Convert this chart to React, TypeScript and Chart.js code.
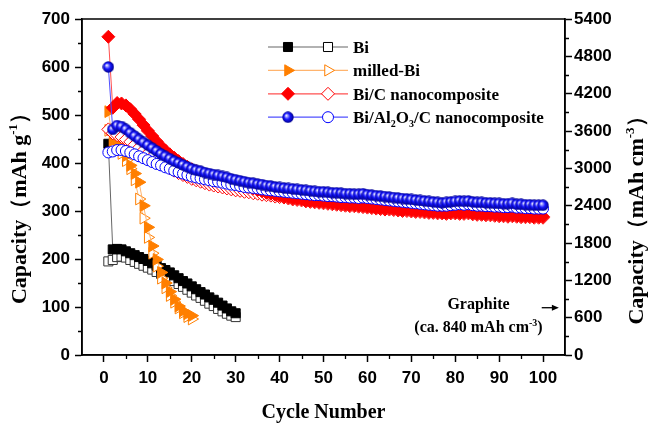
import React, { useEffect, useRef } from 'react';
import { Chart, registerables } from 'chart.js';

Chart.register(...registerables);

// ---------- tick values ----------
const xTickValues = [0, 10, 20, 30, 40, 50, 60, 70, 80, 90, 100];
const xMinorTicks = [5, 15, 25, 35, 45, 55, 65, 75, 85, 95];
const leftTickValues = [0, 100, 200, 300, 400, 500, 600, 700];
const leftMinorTicks = [50, 150, 250, 350, 450, 550, 650];
const rightTickValues = [0, 600, 1200, 1800, 2400, 3000, 3600, 4200, 4800, 5400];
const rightMinorTicks = [300, 900, 1500, 2100, 2700, 3300, 3900, 4500, 5100];

// ---------- series (capacity, mAh g-1, cycle 1..n) ----------
const biFilled = [440, 220, 221, 220, 216, 212, 208, 204, 200, 196,
  191, 186, 181, 177, 172, 166, 160, 154, 149, 143,
  137, 131, 126, 120, 115, 109, 103, 97, 91, 87];
const biOpen = [195, 198, 204, 205, 203, 198, 194, 190, 186, 182,
  178, 173, 169, 164, 159, 154, 148, 142, 136, 130,
  124, 119, 113, 107, 102, 96, 91, 86, 82, 79];

const milledFilled = [507, 447, 440, 430, 415, 395, 378, 360, 311, 266,
  227, 199, 172, 150, 132, 116, 102, 92, 86, 82];
const milledOpen = [468, 440, 432, 420, 405, 388, 365, 325, 285, 245,
  212, 185, 160, 140, 124, 110, 98, 88, 80, 75];

const bicFilled = [663, 515, 525, 524, 520, 512, 502, 491, 479, 467,
  456, 445, 435, 426, 418, 411, 404, 398, 392, 387,
  383, 379, 376, 373, 370, 368, 365, 363, 361, 359,
  356, 353, 350, 347, 344, 341, 338, 336, 334, 332,
  330, 328, 326, 325, 324, 322, 321, 320, 319, 318,
  317, 316, 315, 314, 313, 312, 312, 311, 310, 309,
  308, 307, 306, 305, 305, 304, 303, 302, 302, 301,
  300, 300, 299, 298, 298, 297, 297, 296, 297, 297,
  296, 296, 297, 295, 294, 294, 293, 293, 292, 291,
  291, 290, 291, 290, 289, 289, 289, 288, 288, 288];
const bicOpen = [470, 462, 458, 454, 449, 444, 438, 432, 426, 420,
  413, 406, 400, 394, 389, 384, 379, 375, 371, 367,
  364, 361, 358, 355, 353, 351, 349, 347, 345, 343,
  342, 340, 339, 337, 336, 334, 333, 332, 330, 329,
  328, 326, 324, 323, 322, 320, 319, 318, 317, 316,
  315, 314, 313, 312, 311, 310, 310, 309, 308, 307,
  306, 305, 304, 303, 303, 302, 301, 300, 300, 299,
  298, 298, 297, 296, 296, 295, 295, 294, 295, 295,
  294, 294, 295, 293, 292, 292, 291, 291, 290, 289,
  289, 288, 289, 288, 287, 287, 287, 286, 286, 286];

const alFilled = [600, 470, 478, 476, 470, 463, 456, 449, 443, 437,
  431, 425, 419, 414, 409, 404, 400, 396, 392, 388,
  385, 383, 380, 378, 376, 374, 372, 370, 367, 365,
  363, 361, 359, 358, 356, 355, 353, 352, 350, 349,
  348, 347, 346, 345, 344, 343, 342, 341, 340, 340,
  339, 338, 338, 337, 336, 336, 335, 335, 336, 334,
  333, 332, 331, 330, 329, 328, 327, 326, 325, 324,
  323, 322, 321, 320, 319, 318, 317, 318, 319, 320,
  321, 320, 321, 319, 318, 318, 317, 317, 316, 316,
  315, 315, 316, 314, 314, 313, 313, 312, 312, 312];
const alOpen = [422, 424, 427, 427, 425, 422, 418, 414, 410, 406,
  402, 398, 395, 391, 388, 384, 381, 378, 375, 372,
  370, 368, 366, 364, 362, 361, 359, 357, 355, 354,
  352, 350, 349, 348, 347, 345, 344, 343, 342, 341,
  340, 339, 338, 337, 336, 335, 334, 333, 333, 332,
  331, 331, 330, 329, 329, 328, 328, 327, 328, 327,
  326, 325, 324, 323, 322, 321, 320, 319, 318, 317,
  316, 315, 314, 313, 312, 311, 311, 311, 312, 313,
  314, 313, 314, 312, 311, 311, 310, 310, 309, 309,
  308, 308, 309, 307, 307, 306, 306, 305, 305, 305];

// annotation (right axis, mAh cm-3)
const graphiteArrowValue = 760;

const SANS = "'Liberation Sans', Arial, sans-serif";
const SERIF = "'Liberation Serif', 'Times New Roman', serif";

type Seg = { t: string; k?: 'sup' | 'sub' };

function segFont(size: number, k?: string) {
  return `bold ${k ? Math.round(size * 0.6) : size}px ${SERIF}`;
}
function richWidth(ctx: CanvasRenderingContext2D, segs: Seg[], size: number) {
  let w = 0;
  for (const s of segs) {
    ctx.font = segFont(size, s.k);
    w += ctx.measureText(s.t).width;
  }
  return w;
}
function drawRich(ctx: CanvasRenderingContext2D, segs: Seg[], x: number, y: number, size: number, align: 'left' | 'center') {
  const w = richWidth(ctx, segs, size);
  let cx = align === 'center' ? x - w / 2 : x;
  ctx.textAlign = 'left';
  ctx.textBaseline = 'alphabetic';
  ctx.fillStyle = '#000';
  for (const s of segs) {
    ctx.font = segFont(size, s.k);
    const dy = s.k === 'sup' ? -size * 0.4 : s.k === 'sub' ? size * 0.22 : 0;
    ctx.fillText(s.t, cx, y + dy);
    cx += ctx.measureText(s.t).width;
  }
}

function makeBall(): HTMLCanvasElement {
  const c = document.createElement('canvas');
  c.width = 12;
  c.height = 12;
  const g = c.getContext('2d')!;
  const grad = g.createRadialGradient(4.2, 4.2, 0.2, 6, 6, 6);
  grad.addColorStop(0, '#ffffff');
  grad.addColorStop(0.18, '#a0a0ff');
  grad.addColorStop(0.5, '#1414ff');
  grad.addColorStop(1, '#000080');
  g.fillStyle = grad;
  g.beginPath();
  g.arc(6, 6, 5.7, 0, Math.PI * 2);
  g.fill();
  return c;
}

function drawMarker(ctx: CanvasRenderingContext2D, kind: string, x: number, y: number, r: number, fill: string, stroke: string, ball?: HTMLCanvasElement) {
  if (kind === 'ball' && ball) {
    ctx.drawImage(ball, x - 6, y - 6);
    return;
  }
  ctx.save();
  ctx.fillStyle = fill;
  ctx.strokeStyle = stroke;
  ctx.lineWidth = 1;
  ctx.beginPath();
  if (kind === 'rect') {
    const s = r * Math.SQRT1_2;
    ctx.rect(x - s, y - s, 2 * s, 2 * s);
  } else if (kind === 'rectRot') {
    ctx.moveTo(x, y - r);
    ctx.lineTo(x + r, y);
    ctx.lineTo(x, y + r);
    ctx.lineTo(x - r, y);
    ctx.closePath();
  } else if (kind === 'tri') {
    ctx.moveTo(x + r, y);
    ctx.lineTo(x - r / 2, y - r * 0.866);
    ctx.lineTo(x - r / 2, y + r * 0.866);
    ctx.closePath();
  } else {
    ctx.arc(x, y, r, 0, Math.PI * 2);
  }
  ctx.fill();
  ctx.stroke();
  ctx.restore();
}

const toPts = (arr: number[]) => arr.map((v, i) => ({ x: i + 1, y: v }));

export default function App() {
  const ref = useRef<HTMLCanvasElement | null>(null);

  useEffect(() => {
    if (!ref.current) return;
    const ball = makeBall();

    const legendRows = [
      { segs: [{ t: 'Bi' }] as Seg[], line: '#666666', kind: 'rect', r: 6.4, color: '#000000' },
      { segs: [{ t: 'milled-Bi' }] as Seg[], line: '#FFB46E', kind: 'tri', r: 6.5, color: '#FF7F00' },
      { segs: [{ t: 'Bi/C nanocomposite' }] as Seg[], line: '#FF5050', kind: 'rectRot', r: 6.5, color: '#FF0000' },
      {
        segs: [{ t: 'Bi/Al' }, { t: '2', k: 'sub' }, { t: 'O' }, { t: '3', k: 'sub' }, { t: '/C nanocomposite' }] as Seg[],
        line: '#5050FF', kind: 'ball', r: 5.5, color: '#0000FF',
      },
    ];

    const overlay = {
      id: 'overlay',
      afterDraw(chart: any) {
        const { ctx, chartArea: ca, scales } = chart;
        const sx = scales.x, sy = scales.y, sy2 = scales.y2;
        ctx.save();
        // frame
        ctx.strokeStyle = '#000';
        ctx.lineWidth = 1.5;
        ctx.strokeRect(ca.left, ca.top, ca.right - ca.left, ca.bottom - ca.top);
        // minor ticks
        ctx.lineWidth = 1.3;
        ctx.beginPath();
        for (const v of xMinorTicks) {
          const px = Math.round(sx.getPixelForValue(v)) + 0.5;
          ctx.moveTo(px, ca.bottom);
          ctx.lineTo(px, ca.bottom + 4);
        }
        for (const v of leftMinorTicks) {
          const py = Math.round(sy.getPixelForValue(v)) + 0.5;
          ctx.moveTo(ca.left, py);
          ctx.lineTo(ca.left - 4, py);
        }
        for (const v of rightMinorTicks) {
          const py = Math.round(sy2.getPixelForValue(v)) + 0.5;
          ctx.moveTo(ca.right, py);
          ctx.lineTo(ca.right + 4, py);
        }
        ctx.stroke();

        // x title
        drawRich(ctx, [{ t: 'Cycle Number' }], (ca.left + ca.right) / 2, 418, 20, 'center');

        // left title
        ctx.save();
        ctx.translate(26, 203);
        ctx.rotate(-Math.PI / 2);
        drawRich(ctx, [{ t: 'Capacity' }, { t: '（mAh g' }, { t: '-1', k: 'sup' }, { t: '）' }], 0, 0, 22, 'center');
        ctx.restore();

        // right title
        ctx.save();
        ctx.translate(643, 215);
        ctx.rotate(-Math.PI / 2);
        drawRich(ctx, [{ t: 'Capacity' }, { t: '（mAh cm' }, { t: '-3', k: 'sup' }, { t: '）' }], 0, 0, 22, 'center');
        ctx.restore();

        // graphite annotation
        const gx = sx.getPixelForValue(85.3);
        drawRich(ctx, [{ t: 'Graphite' }], gx, 309, 16, 'center');
        drawRich(ctx, [{ t: '(ca. 840 mAh cm' }, { t: '-3', k: 'sup' }, { t: ')' }], gx, 332, 16, 'center');
        const ay = sy2.getPixelForValue(graphiteArrowValue);
        const ax0 = sx.getPixelForValue(99.7);
        const ax1 = sx.getPixelForValue(103.6);
        ctx.strokeStyle = '#000';
        ctx.fillStyle = '#000';
        ctx.lineWidth = 1.3;
        ctx.beginPath();
        ctx.moveTo(ax0, ay);
        ctx.lineTo(ax1 - 4, ay);
        ctx.stroke();
        ctx.beginPath();
        ctx.moveTo(ax1, ay);
        ctx.lineTo(ax1 - 7, ay - 3);
        ctx.lineTo(ax1 - 7, ay + 3);
        ctx.closePath();
        ctx.fill();

        // legend
        legendRows.forEach((row, i) => {
          const ry = 47 + i * 23.4;
          ctx.strokeStyle = row.line;
          ctx.lineWidth = 1.2;
          ctx.beginPath();
          ctx.moveTo(268, ry);
          ctx.lineTo(348, ry);
          ctx.stroke();
          drawMarker(ctx, row.kind, 288, ry, row.r, row.color, row.color, ball);
          drawMarker(ctx, row.kind === 'ball' ? 'circle' : row.kind, 328, ry, row.r, '#ffffff', row.color);
          drawRich(ctx, row.segs, 353, ry + 6, 17, 'left');
        });
        ctx.restore();
      },
    };

    const tickFont = { family: SANS, size: 17, weight: 'bold' as const };
    const gridOpts = { drawOnChartArea: false, drawTicks: true, tickLength: 7, tickColor: '#000', tickWidth: 1.5, color: '#000' };
    const borderOpts = { display: true, color: '#000', width: 1.5 };
    const plain = (v: any) => String(v);

    const common = { showLine: true, tension: 0, fill: false, borderWidth: 1, pointBorderWidth: 1, pointHoverRadius: 0 };

    const chart = new Chart(ref.current, {
      type: 'line',
      data: {
        datasets: [
          { ...common, label: 'Bi', data: toPts(biFilled), order: 6, borderColor: '#666666', pointStyle: 'rect', pointRadius: 6.4, pointBackgroundColor: '#000', pointBorderColor: '#000', yAxisID: 'y' },
          { ...common, label: 'Bi open', data: toPts(biOpen), order: 7, borderColor: '#666666', pointStyle: 'rect', pointRadius: 6.4, pointBackgroundColor: '#fff', pointBorderColor: '#333', yAxisID: 'y' },
          { ...common, label: 'milled-Bi', data: toPts(milledFilled), order: 4, borderColor: '#FFB46E', pointStyle: 'triangle', pointRotation: 90, pointRadius: 6.8, pointBackgroundColor: '#FF7F00', pointBorderColor: '#FF7F00', yAxisID: 'y' },
          { ...common, label: 'milled-Bi open', data: toPts(milledOpen), order: 5, borderColor: '#FFB46E', pointStyle: 'triangle', pointRotation: 90, pointRadius: 6.8, pointBackgroundColor: '#fff', pointBorderColor: '#FF7F00', yAxisID: 'y' },
          { ...common, label: 'Bi/C nanocomposite', data: toPts(bicFilled), order: 2, borderColor: '#FF5050', pointStyle: 'rectRot', pointRadius: 6.5, pointBackgroundColor: '#FF0000', pointBorderColor: '#FF0000', yAxisID: 'y' },
          { ...common, label: 'Bi/C open', data: toPts(bicOpen), order: 3, borderColor: '#FF5050', pointStyle: 'rectRot', pointRadius: 6.5, pointBackgroundColor: '#fff', pointBorderColor: '#FF0000', yAxisID: 'y' },
          { ...common, label: 'Bi/Al2O3/C nanocomposite', data: toPts(alFilled), order: 0, borderColor: '#5050FF', pointStyle: ball as any, pointRadius: 5.5, yAxisID: 'y' },
          { ...common, label: 'Bi/Al2O3/C open', data: toPts(alOpen), order: 1, borderColor: '#5050FF', pointStyle: 'circle', pointRadius: 5.5, pointBackgroundColor: '#fff', pointBorderColor: '#0000FF', yAxisID: 'y' },
        ],
      },
      options: {
        responsive: false,
        animation: false,
        devicePixelRatio: 1,
        events: [],
        layout: { padding: { top: 19, left: 0, right: 0, bottom: 0 } },
        plugins: { legend: { display: false }, tooltip: { enabled: false } },
        scales: {
          x: {
            type: 'linear', position: 'bottom', min: -5, max: 105,
            afterBuildTicks: (s: any) => { s.ticks = xTickValues.map((v) => ({ value: v })); },
            afterFit: (s: any) => { s.height = 70; },
            ticks: { font: tickFont, color: '#000', padding: 6, maxRotation: 0, autoSkip: false, callback: plain },
            grid: gridOpts, border: borderOpts,
          },
          y: {
            type: 'linear', position: 'left', min: 0, max: 700,
            afterBuildTicks: (s: any) => { s.ticks = leftTickValues.map((v) => ({ value: v })); },
            afterFit: (s: any) => { s.width = 82; },
            ticks: { font: tickFont, color: '#000', padding: 5, autoSkip: false, callback: plain },
            grid: gridOpts, border: borderOpts,
          },
          y2: {
            type: 'linear', position: 'right', min: 0, max: 5400,
            afterBuildTicks: (s: any) => { s.ticks = rightTickValues.map((v) => ({ value: v })); },
            afterFit: (s: any) => { s.width = 83; },
            ticks: { font: tickFont, color: '#000', padding: 2, autoSkip: false, callback: plain },
            grid: gridOpts, border: borderOpts,
          },
        },
      } as any,
      plugins: [overlay],
    });
    return () => chart.destroy();
  }, []);

  return (
    <div style={{ position: 'absolute', left: 0, top: 0, width: 648, height: 425, background: '#fff' }}>
      <canvas ref={ref} width={648} height={425} style={{ display: 'block', width: 648, height: 425 }} />
    </div>
  );
}
